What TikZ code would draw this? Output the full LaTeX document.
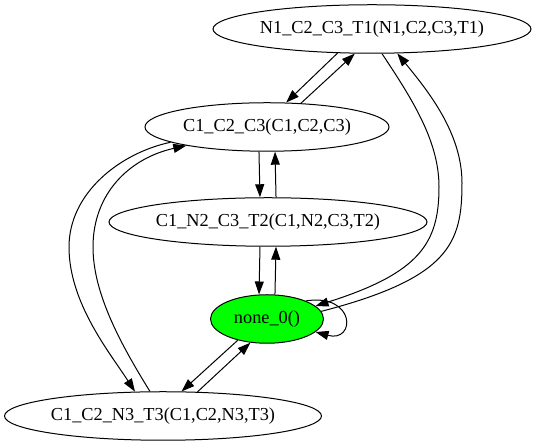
\documentclass[tikz,border=0pt]{standalone}
\usepackage{fontspec}
\setmainfont{Liberation Serif}
\usetikzlibrary{arrows.meta,shapes.geometric}
\definecolor{stategreen}{RGB}{0,255,0}
\begin{document}
\begin{tikzpicture}[
        x=1pt, y=1pt,
        every node/.style={font=\fontsize{18.3}{20}\selectfont, align=center},
        state/.style={ellipse, draw=black, line width=1pt, inner sep=0pt, minimum height=48.5pt},
        start/.style={state, fill=stategreen},
        arrow/.style={-{Triangle[length=13pt,width=9pt]}, line width=1pt}
    ]
    \useasboundingbox (0,0) rectangle (533,443);
    % Nodes
    \node[state, minimum width=318pt] (n1c2c3t1) at (372,414) {N1\_C2\_C3\_T1(N1,C2,C3,T1)};
    \node[state, minimum width=244pt] (c1c2c3) at (267,316) {C1\_C2\_C3(C1,C2,C3)};
    \node[state, minimum width=318pt] (c1n2c3t2) at (268,221) {C1\_N2\_C3\_T2(C1,N2,C3,T2)};
    \node[start, minimum width=113pt] (none0) at (267,124) {none\_0()};
    \node[state, minimum width=317pt] (c1c2n3t3) at (163,27) {C1\_C2\_N3\_T3(C1,C2,N3,T3)};
    % Arrows
    \draw[arrow] (n1c2c3t1.215) -- (c1c2c3.52);
    \draw[arrow] (c1c2c3.35) -- (n1c2c3t1.235);
    \draw[arrow] (c1c2c3.252) -- (c1n2c3t2.108);
    \draw[arrow] (c1n2c3t2.72) -- (c1c2c3.288);
    \draw[arrow] (c1n2c3t2.252) -- (none0.108);
    \draw[arrow] (none0.72) -- (c1n2c3t2.288);
    \draw[arrow] (none0.216) -- (c1c2n3t3.53);
    \draw[arrow] (c1c2n3t3.35) -- (none0.235);
    \draw[arrow] (c1c2c3.189) .. controls (120,290) and (69,250) .. (69,196)
        .. controls (69,140) and (110,90) .. (c1c2n3t3.139);
    \draw[arrow] (c1c2n3t3.118) .. controls (120,100) and (93,150) .. (93,196)
        .. controls (93,250) and (130,285) .. (c1c2c3.193);
    \draw[arrow] (n1c2c3t1.292) .. controls (415,340) and (439,300) .. (439,256)
        .. controls (439,200) and (420,170) .. (none0.15);
    \draw[arrow] (none0.8) .. controls (450,165) and (462,200) .. (462,260)
        .. controls (462,310) and (428,352) .. (n1c2c3t1.316);
    \draw[arrow] (none0.25) .. controls (356,150) and (356,100) .. (none0.345);
\end{tikzpicture}
\end{document}
